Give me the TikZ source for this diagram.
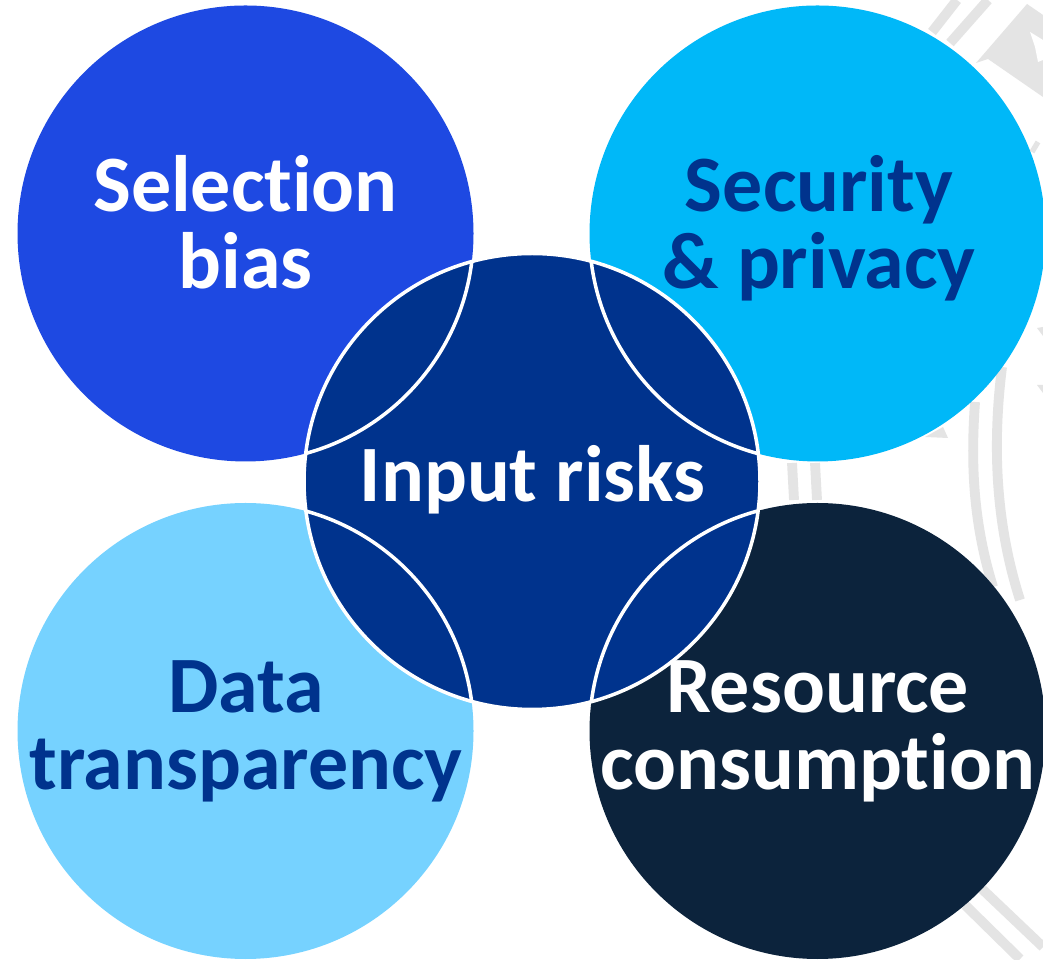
\documentclass[tikz,border=0pt]{standalone}
\usepackage{fontspec}
\setmainfont[Ligatures=NoCommon]{Carlito}
\definecolor{mybias}{HTML}{1E49E2}
\definecolor{mysecurity}{HTML}{00B8F8}
\definecolor{mydata}{HTML}{76D2FF}
\definecolor{myresource}{HTML}{0C233C}
\definecolor{mycenter}{HTML}{00338D}
\definecolor{myseal}{HTML}{E4E4E4}
\newcommand{\myradius}{2.28}
\tikzset{
  disc label/.style={font=\fontsize{22.75}{21.9}\selectfont\bfseries,align=center,inner sep=0pt},
  seal/.style={draw=myseal,line width=2.8pt}
}
\begin{document}
\begin{tikzpicture}
 \clip (0,0) rectangle (10.43,9.59);
 \fill[white] (0,0) rectangle (10.43,9.59);

 % faint seal behind the discs
   \draw[seal] (9.32,9.27) -- (9.57,9.59);
   \draw[seal] (9.50,9.16) -- (9.88,9.59);
   \draw[seal] (9.75,5.57) .. controls (9.71,5.0) and (9.72,4.4) .. (9.93,3.72);
   \draw[seal] (10.02,5.92) .. controls (9.93,5.2) and (9.94,4.4) .. (10.2,3.59);
   \draw[seal] (7.92,4.96) -- (7.94,4.59);
   \draw[seal] (8.15,4.96) -- (8.17,4.59);
   \draw[seal] (9.65,0.54) -- (10.2,0);
   \draw[seal] (9.82,0.70) -- (10.43,0.12);
   \fill[myseal] (9.76,8.96) -- (10.27,9.55) -- (10.43,9.44) -- (10.43,8.62) -- (9.88,9.00) -- cycle;
   \fill[white] (10.30,9.27) -- (10.43,9.19) -- (10.43,8.99) -- (10.38,8.97) -- (10.35,9.12) -- cycle;
   \fill[myseal] (9.25,5.22) -- (9.43,5.32) -- (9.48,5.21) -- cycle;
   \fill[myseal] (10.37,6.31) -- (10.43,6.32) -- (10.43,6.23) -- cycle;
   \fill[myseal] (10.37,5.74) -- (10.43,5.74) -- (10.43,5.66) -- cycle;
   \draw[seal,line width=1.5pt] (10.32,8.07) -- (10.38,8.17);

 \fill[mybias] (2.455,7.255) circle (\myradius);
 \fill[mysecurity] (8.175,7.255) circle (\myradius);
 \fill[mydata] (2.455,2.28) circle (\myradius);
 \fill[myresource] (8.175,2.28) circle (\myradius);
 \fill[mycenter] (5.32,4.775) circle (\myradius);

 \begin{scope}
   \clip (5.32,4.775) circle (\myradius);
   \draw[white,line width=1pt] (2.455,7.255) circle (\myradius);
   \draw[white,line width=1pt] (8.175,7.255) circle (\myradius);
   \draw[white,line width=1pt] (2.455,2.28) circle (\myradius);
   \draw[white,line width=1pt] (8.175,2.28) circle (\myradius);
 \end{scope}
 \draw[white,line width=1pt] (5.32,4.775) circle (\myradius);

 \node[disc label,white] (selection) at (2.455,7.37) {Selection\\bias};
 \node[disc label,mycenter] (security) at (8.19,7.31) {Security\\\& privacy};
 \node[disc label,mycenter] (transparency) at (2.46,2.28) {Data\\transparency};
 \node[disc label,white] (consumption) at (8.175,2.28) {Resource\\consumption};
 \node[disc label,white] (input) at (5.325,4.79) {Input risks};

\end{tikzpicture}
\end{document}
